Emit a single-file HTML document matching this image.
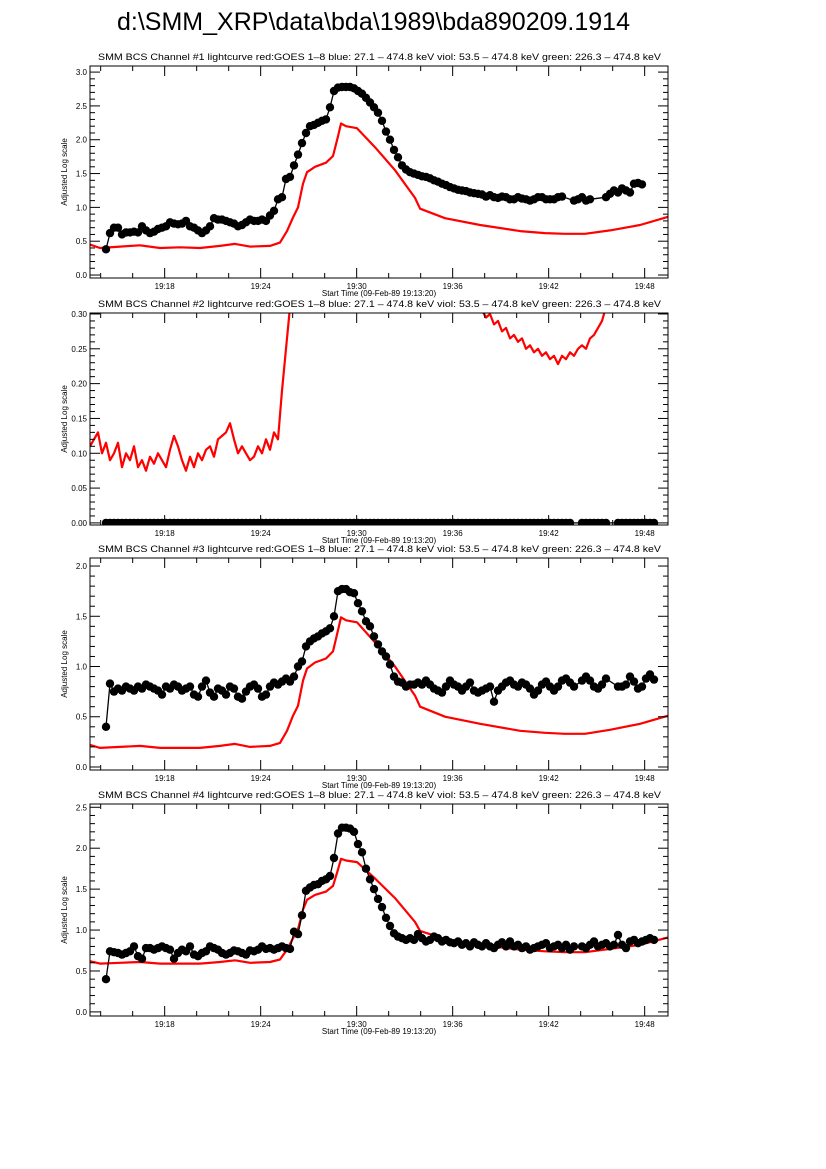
<!DOCTYPE html>
<html><head><meta charset="utf-8"><style>
html,body{margin:0;padding:0;background:#fff;}
svg{display:block;font-family:"Liberation Sans",sans-serif;}
</style></head><body>
<svg id="chart" width="826" height="1169" viewBox="0 0 826 1169" xmlns="http://www.w3.org/2000/svg">
<rect width="826" height="1169" fill="#fff"/>
<text x="117" y="30" font-size="25" textLength="513" lengthAdjust="spacingAndGlyphs">d:\SMM_XRP\data\bda\1989\bda890209.1914</text>
</svg>
<script>
// Time in minutes after 19:13:20
const xTickLabels = ["19:18","19:24","19:30","19:36","19:42","19:48"];
const xTickMinutes = [4.6667,10.6667,16.6667,22.6667,28.6667,34.6667];
const dotStart = 1.0;   // first BCS sample (min)
const dotStep = 0.25;   // BCS cadence (min)

// GOES times (min) shared by channels 1,3,4
const goesT = [0,.625,1.875,3.125,4.375,5.625,6.875,8.125,9.06,10,11.25,11.875,12.31,12.69,13,13.31,13.56,14.06,14.75,15.19,15.5,15.69,16,16.69,17.81,19.06,20.31,20.63,22.19,24.38,26.88,28.44,29.69,30.94,32.5,34.38,36.13];
const goes1 = [.45,.40,.42,.44,.40,.41,.40,.43,.46,.42,.43,.48,.65,.85,1.00,1.35,1.52,1.60,1.66,1.76,2.05,2.24,2.20,2.17,1.89,1.55,1.14,.98,.84,.74,.65,.62,.61,.61,.66,.74,.86];
const goes3 = [.22,.19,.20,.21,.19,.19,.19,.21,.23,.20,.21,.24,.36,.51,.61,.86,.98,1.04,1.08,1.15,1.36,1.49,1.46,1.44,1.24,1.00,.71,.60,.50,.43,.36,.34,.33,.33,.37,.43,.51];
const goes4 = [.62,.59,.60,.61,.59,.59,.59,.61,.63,.60,.61,.64,.76,.90,1.01,1.25,1.37,1.43,1.47,1.54,1.74,1.87,1.85,1.83,1.63,1.39,1.10,.99,.89,.82,.76,.74,.73,.73,.77,.82,.91];
// Channel 2 GOES (two visible segments, 0.25 min cadence)
const goes2aStart = 0;
const goes2a = [.11,.12,.13,.10,.115,.09,.10,.115,.08,.10,.09,.11,.08,.09,.075,.095,.085,.10,.09,.08,.105,.125,.11,.09,.075,.095,.08,.10,.09,.105,.11,.095,.12,.125,.13,.143,.12,.10,.11,.10,.09,.095,.11,.10,.12,.105,.13,.12,.19,.25,.31,.45];
const goes2bStart = 24.5;
const goes2b = [.305,.295,.30,.285,.29,.275,.28,.265,.27,.26,.265,.25,.255,.245,.25,.24,.245,.235,.24,.228,.24,.235,.245,.24,.25,.255,.25,.265,.27,.28,.29,.31];

// BCS counts (0.25 min cadence from dotStart), null = gap
const bcs1 = [.38,.62,.70,.70,.60,.63,.63,.64,.63,.72,.66,.62,.64,.68,.70,.72,.78,.76,.75,.76,.80,.72,.70,.66,.62,.66,.72,.84,.82,.82,.80,.78,.76,.72,.74,.78,.82,.80,.80,.82,.80,.88,.95,1.12,1.15,1.42,1.45,1.62,1.78,1.95,2.10,2.20,2.22,2.25,2.28,2.30,2.48,2.72,2.77,2.78,2.78,2.78,2.76,2.72,2.68,2.62,2.55,2.48,2.40,2.28,2.12,2.00,1.85,1.74,1.62,1.56,1.52,1.50,1.48,1.46,1.45,1.43,1.40,1.38,1.35,1.33,1.30,1.28,1.26,1.25,1.24,1.22,1.21,1.20,1.19,1.16,1.18,1.15,1.14,1.16,1.15,1.12,1.12,1.15,1.13,1.12,1.10,1.12,1.15,1.15,1.12,1.12,1.12,1.15,1.16,null,null,1.10,1.12,1.15,1.10,1.12,null,null,null,1.15,1.20,1.25,1.22,1.28,1.25,1.22,1.35,1.36,1.34];
const bcs2 = [0,0,0,0,0,0,0,0,0,0,0,0,0,0,0,0,0,0,0,0,0,0,0,0,0,0,0,0,0,0,0,0,0,0,0,0,0,0,0,0,0,0,0,0,0,0,0,0,0,0,0,0,0,0,0,0,0,0,0,0,0,0,0,0,0,0,0,0,0,0,0,0,0,0,0,0,0,0,0,0,0,0,0,0,0,0,0,0,0,0,0,0,0,0,0,0,0,0,0,0,0,0,0,0,0,0,0,0,0,0,0,0,0,0,0,0,0,null,null,0,0,0,0,0,0,0,null,null,0,0,0,0,0,0,0,0,0,0];
const bcs3 = [.40,.83,.75,.78,.76,.80,.78,.76,.80,.78,.82,.80,.78,.76,.72,.80,.78,.82,.80,.76,.78,.80,.72,.70,.80,.86,.74,.70,.78,.76,.72,.80,.78,.70,.68,.75,.80,.82,.78,.70,.72,.80,.84,.82,.85,.88,.85,.90,1.00,1.05,1.20,1.25,1.28,1.30,1.33,1.35,1.38,1.50,1.75,1.77,1.77,1.74,1.73,1.63,1.55,1.45,1.40,1.30,1.22,1.15,1.10,1.02,.90,.85,.84,.80,.82,.82,.84,.82,.86,.82,.78,.76,.74,.80,.86,.82,.80,.76,.80,.84,.76,.74,.76,.78,.80,.65,.76,.80,.84,.86,.82,.80,.84,.82,.78,.72,.76,.82,.85,.80,.76,.80,.86,.88,.84,.80,null,.86,.90,.86,.80,.78,.82,.88,null,null,.80,.80,.82,.90,.85,.78,.80,.88,.92,.87];
const bcs4 = [.40,.74,.73,.72,.70,.72,.74,.80,.68,.65,.78,.78,.76,.78,.80,.78,.76,.65,.72,.76,.74,.80,.70,.68,.72,.74,.80,.78,.76,.72,.70,.72,.75,.74,.72,.70,.75,.74,.76,.80,.77,.78,.76,.78,.80,.78,.77,.98,.95,1.18,1.48,1.52,1.55,1.56,1.60,1.62,1.66,1.88,2.18,2.25,2.25,2.24,2.20,2.05,1.95,1.75,1.62,1.50,1.38,1.28,1.15,1.05,.96,.92,.90,.88,.90,.88,.95,.90,.86,.88,.92,.90,.86,.88,.85,.84,.86,.82,.84,.80,.85,.82,.80,.84,.80,.78,.82,.85,.80,.86,.80,.82,.78,.80,.76,.78,.80,.82,.84,.78,.80,.82,.78,.82,.76,.80,null,.80,.78,.82,.86,.80,.82,.84,.80,.82,.94,.82,.78,.86,.88,.84,.86,.88,.90,.88];

const panels = [
 {n:1, top:66, ymin:-0.044, ymax:3.09, major:0.5, minor:0.1, ticks:["0.0","0.5","1.0","1.5","2.0","2.5","3.0"], goes:[{t:goesT,v:goes1}], bcs:bcs1},
 {n:2, top:313, ymin:-0.003, ymax:0.3014, major:0.05, minor:0.01, ticks:["0.00","0.05","0.10","0.15","0.20","0.25","0.30"], goes:[{s:goes2aStart,v:goes2a},{s:goes2bStart,v:goes2b}], bcs:bcs2},
 {n:3, top:558, ymin:-0.03, ymax:2.08, major:0.5, minor:0.1, ticks:["0.0","0.5","1.0","1.5","2.0"], goes:[{t:goesT,v:goes3}], bcs:bcs3},
 {n:4, top:804, ymin:-0.05, ymax:2.54, major:0.5, minor:0.1, ticks:["0.0","0.5","1.0","1.5","2.0","2.5"], goes:[{t:goesT,v:goes4}], bcs:bcs4}
];
const L=90, R=668, H=212, tMin=0, tMax=36.125;
const svg=document.getElementById('chart');
const NS='http://www.w3.org/2000/svg';
function mk(tag,attrs,parent){const e=document.createElementNS(NS,tag);for(const k in attrs)e.setAttribute(k,attrs[k]);(parent||svg).appendChild(e);return e;}
const xs=t=>L+(t-tMin)/(tMax-tMin)*(R-L);

panels.forEach(p=>{
  const B=p.top+H;
  const ys=v=>B-(v-p.ymin)/(p.ymax-p.ymin)*H;
  const g=mk('g',{});
  
  
  const ttl=mk('text',{x:98,y:p.top-6,'font-size':9,textLength:563,lengthAdjust:'spacingAndGlyphs'},g);
  ttl.textContent='SMM BCS Channel #'+p.n+' lightcurve  red:GOES 1\u20138  blue: 27.1 \u2013 474.8 keV  viol: 53.5 \u2013 474.8 keV  green: 226.3 \u2013 474.8 keV';
  
  
  const clipId='clip'+p.n;
  const cp=mk('clipPath',{id:clipId},g);mk('rect',{x:L,y:p.top,width:R-L,height:H},cp);
  const plot=mk('g',{'clip-path':'url(#'+clipId+')'},g);
  p.goes.forEach(sg=>{
    const pts=sg.v.map((v,i)=>{const t=sg.t?sg.t[i]:sg.s+i*0.25;return xs(t).toFixed(1)+','+ys(v).toFixed(1);});
    const pl=mk('polyline',{points:pts.join(' '),fill:'none',stroke:'#f00','stroke-width':2.2,'stroke-linejoin':'round'},plot);
    
    
  });
  const bp=[];
  p.bcs.forEach((v,i)=>{if(v!==null)bp.push([xs(dotStart+i*dotStep),ys(v)]);});
  const bl=mk('polyline',{points:bp.map(q=>q[0].toFixed(1)+','+q[1].toFixed(1)).join(' '),fill:'none',stroke:'#000','stroke-width':1.3},plot);
  
  
  bp.forEach(q=>{const c=mk('circle',{cx:q[0].toFixed(1),cy:q[1].toFixed(1),r:4.2,fill:'#000'},plot);
    
    });
  const fr=mk('rect',{x:L,y:p.top,width:R-L,height:H,fill:'none',stroke:'#000','stroke-width':1},g);
  
  
  const nMinor=Math.round((p.ymax)/p.minor);
  for(let k=0;k<=nMinor;k++){const v=k*p.minor;const y=ys(v);if(y<p.top)continue;
    const isMaj=Math.abs(v/p.major-Math.round(v/p.major))<1e-6;const len=isMaj?10:5;
    mk('line',{x1:L,x2:L+len,y1:y,y2:y,stroke:'#000','stroke-width':1},g);
    mk('line',{x1:R,x2:R-len,y1:y,y2:y,stroke:'#000','stroke-width':1},g);}
  p.ticks.forEach((lab,k)=>{const y=ys(k*p.major);
    const t=mk('text',{x:L-3,y:y+3,'font-size':8,'text-anchor':'end'},g);t.textContent=lab;
    
    });
  for(let m=0.6667;m<tMax;m+=2){const x=xs(m);const isMaj=Math.abs(((m-4.6667)/6)-Math.round((m-4.6667)/6))<1e-3;const len=isMaj?10:5;
    mk('line',{x1:x,x2:x,y1:B,y2:B-len,stroke:'#000','stroke-width':1},g);
    mk('line',{x1:x,x2:x,y1:p.top,y2:p.top+len,stroke:'#000','stroke-width':1},g);}
  xTickLabels.forEach((lab,k)=>{const t=mk('text',{x:xs(xTickMinutes[k]),y:B+11,'font-size':8,'text-anchor':'middle'},g);t.textContent=lab;
    
    });
  const xt=mk('text',{x:379,y:B+18,'font-size':8,'text-anchor':'middle'},g);xt.textContent='Start Time (09-Feb-89 19:13:20)';
  
  
  const yt=mk('text',{x:0,y:0,'font-size':8,'text-anchor':'middle',transform:'translate(67,'+(p.top+H/2)+') rotate(-90)'},g);yt.textContent='Adjusted Log scale';
  
  
});
</script>
</body></html>
